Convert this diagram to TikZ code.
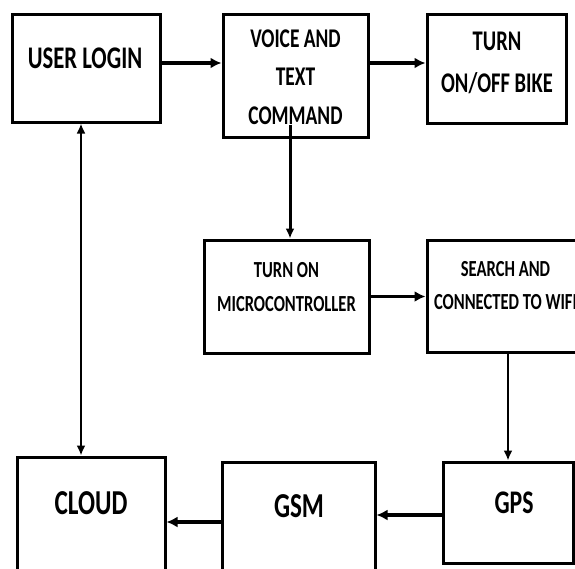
\documentclass[tikz,border=0pt]{standalone}
\usepackage{fontspec}
\newfontfamily\boxfont[FakeStretch=0.72]{Carlito}
\usetikzlibrary{arrows.meta}
\begin{document}
\begin{tikzpicture}[x=1pt,y=-1pt,
    blk/.style={draw,line width=3pt,inner sep=0pt},
    lbl/.style 2 args={align=center,anchor=base,inner sep=0pt,
        font=\boxfont\bfseries\fontsize{#1}{#2}\selectfont},
    harr/.style={line width=3.5pt,-{Latex[length=11pt,width=11pt]}},
    varr/.style={line width=2.2pt,-{Latex[length=10pt,width=9pt]}}]
    \useasboundingbox (0,0) rectangle (575,568);
    \clip (0,0) rectangle (575,568);
    % boxes
    \node[blk,minimum width=148pt,minimum height=108pt] (login) at (86,68) {};
    \node[blk,minimum width=145pt,minimum height=123pt] (voice) at (295.5,75.5) {};
    \node[blk,minimum width=139pt,minimum height=109pt] (bike) at (496.5,68.5) {};
    \node[blk,minimum width=165pt,minimum height=113pt] (micro) at (286.5,296.5) {};
    \node[blk,minimum width=162pt,minimum height=112pt] (wifi) at (508,296) {};
    \node[blk,minimum width=130pt,minimum height=101pt] (gps) at (508,512.5) {};
    \node[blk,minimum width=153pt,minimum height=120pt] (gsm) at (298.5,522) {};
    \node[blk,minimum width=148pt,minimum height=130pt] (cloud) at (91,522) {};
    % texts (anchored on the baseline of the last line)
    \node[lbl={31.5}{38}] (loginT) at (85,68) {USER LOGIN};
    \node[lbl={27}{38.5}] (voiceT) at (295.5,124) {VOICE AND\\TEXT\\COMMAND};
    \node[lbl={28.5}{42}] (bikeT) at (497,92) {TURN\\ON/OFF BIKE};
    \node[lbl={23}{33.5}] (microT) at (286.5,311) {TURN ON\\MICROCONTROLLER};
    \node[lbl={23}{32.5}] (wifiT) at (505.5,309) {SEARCH AND\\CONNECTED TO WIFI};
    \node[lbl={35}{35}] (cloudT) at (91,514) {CLOUD};
    \node[lbl={35}{35}] (gsmT) at (299,517) {GSM};
    \node[lbl={33}{33}] (gpsT) at (514,513) {GPS};
    % arrows
    \draw[harr] ([yshift=5pt]login.east) -- ([yshift=5pt]login.east -| voice.west);
    \draw[harr] ([yshift=5.5pt]bike.west -| voice.east) -- ([yshift=5.5pt]bike.west);
    \draw[varr,line width=3pt] ([xshift=-5.5pt,yshift=14pt]voice.south) -- ([xshift=-5.5pt]voice.south |- micro.north);
    \draw[harr] (micro.east) -- (micro.east -| wifi.west);
    \draw[varr] (wifi.south) -- (wifi.south |- gps.north);
    \draw[harr] ([yshift=-2.5pt]gps.west) -- ([yshift=-2.5pt]gps.west -| gsm.east);
    \draw[harr] (gsm.west) -- (gsm.west -| cloud.east);
    \draw[varr,{Latex[length=10pt,width=9pt]}-{Latex[length=10pt,width=9pt]}] ([xshift=-5pt]login.south) -- ([xshift=-5pt]login.south |- cloud.north);
\end{tikzpicture}
\end{document}
